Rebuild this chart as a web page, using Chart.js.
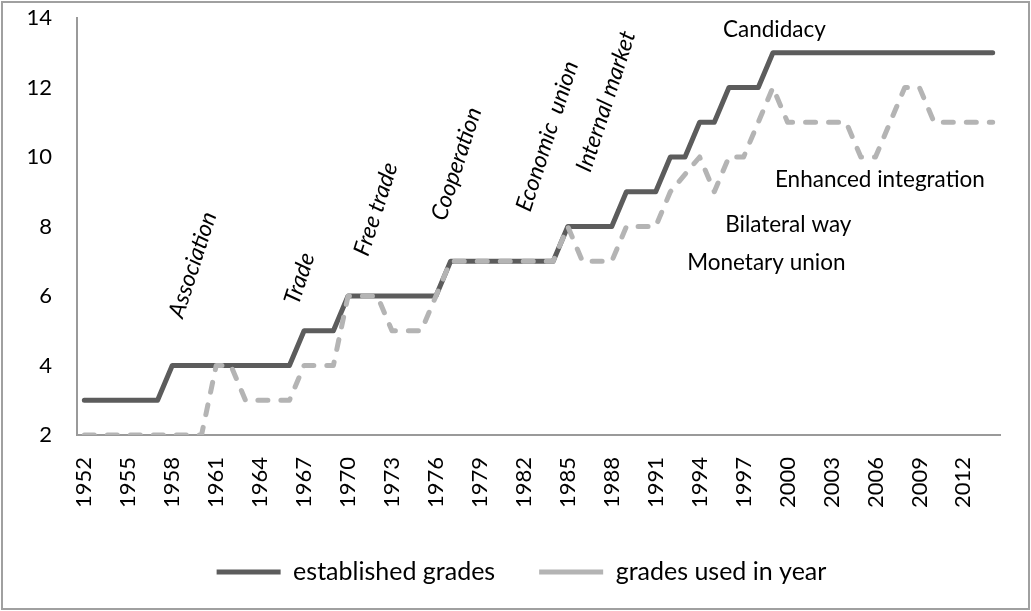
<!DOCTYPE html>
<html lang="en">
<head>
  <meta charset="UTF-8" />
  <title>Grades</title>
  <script src="https://cdn.jsdelivr.net/npm/chart.js"></script>
  <style>
    html, body { margin: 0; padding: 0; background: #fff; }
    #wrap { width: 1031px; height: 611px; }
  </style>
</head>
<body>
  <div id="wrap"><canvas id="gradeChart" width="1031" height="611"></canvas></div>

  <script>
    const years = [
      '1952', '1953', '1954', '1955', '1956', '1957', '1958', '1959', '1960', '1961',
      '1962', '1963', '1964', '1965', '1966', '1967', '1968', '1969', '1970', '1971',
      '1972', '1973', '1974', '1975', '1976', '1977', '1978', '1979', '1980', '1981',
      '1982', '1983', '1984', '1985', '1986', '1987', '1988', '1989', '1990', '1991',
      '1992', '1993', '1994', '1995', '1996', '1997', '1998', '1999', '2000', '2001',
      '2002', '2003', '2004', '2005', '2006', '2007', '2008', '2009', '2010', '2011',
      '2012', '2013', '2014'
    ];

    const established = [
      3, 3, 3, 3, 3, 3, 4, 4, 4, 4,
      4, 4, 4, 4, 4, 5, 5, 5, 6, 6,
      6, 6, 6, 6, 6, 7, 7, 7, 7, 7,
      7, 7, 7, 8, 8, 8, 8, 9, 9, 9,
      10, 10, 11, 11, 12, 12, 12, 13, 13, 13,
      13, 13, 13, 13, 13, 13, 13, 13, 13, 13,
      13, 13, 13
    ];

    const usedInYear = [
      2, 2, 2, 2, 2, 2, 2, 2, 2, 4,
      4, 3, 3, 3, 3, 4, 4, 4, 6, 6,
      6, 5, 5, 5, 6, 7, 7, 7, 7, 7,
      7, 7, 7, 8, 7, 7, 7, 8, 8, 8,
      9, 9.5, 10, 9, 10, 10, 11, 12, 11, 11,
      11, 11, 11, 10, 10, 11, 12, 12, 11, 11,
      11, 11, 11
    ];

    const seriesNames = ['established grades', 'grades used in year'];

    // stage labels written on the plot, anchored at (year, grade)
    const stageLabels = ['Association', 'Trade', 'Free trade', 'Cooperation', 'Economic  union', 'Internal market',
      'Candidacy', 'Enhanced integration', 'Bilateral way', 'Monetary union'];
    const stageYears = [1959.4, 1966.7, 1971.9, 1977.4, 1983.6, 1987.6, 1999.1, 2006.3, 2000.05, 1998.55];
    const stageGrades = [6.9, 6.5, 8.5, 9.8, 10.6, 11.6, 13.65, 9.34, 8.04, 6.95];
    const stageTilted = [true, true, true, true, true, true, false, false, false, false];

    const FONT = 'Lato, "Open Sans", sans-serif';

    const stagePlugin = {
      id: 'stages',
      afterDatasetsDraw(chart) {
        const { ctx, scales } = chart;
        ctx.save();
        ctx.fillStyle = '#000';
        ctx.textAlign = 'center';
        ctx.textBaseline = 'middle';
        stageLabels.forEach((txt, i) => {
          const x = scales.x.getPixelForValue(stageYears[i] - 1952);
          const y = scales.y.getPixelForValue(stageGrades[i]);
          ctx.save();
          ctx.translate(x, y);
          if (stageTilted[i]) {
            ctx.rotate(-72 * Math.PI / 180);
            ctx.font = 'italic 23px ' + FONT;
          } else {
            ctx.font = '22.5px ' + FONT;
          }
          ctx.fillText(txt, 0, 0);
          ctx.restore();
        });
        ctx.restore();
      }
    };

    const framePlugin = {
      id: 'frame',
      beforeDraw(chart) {
        const { ctx, width, height } = chart;
        ctx.save();
        ctx.fillStyle = '#fff';
        ctx.fillRect(0, 0, width, height);
        ctx.strokeStyle = '#a0a0a0';
        ctx.lineWidth = 2;
        ctx.strokeRect(2, 2, width - 4, height - 4);
        ctx.restore();
      }
    };

    Chart.defaults.font.family = FONT;
    Chart.defaults.color = '#000';

    const ctx = document.getElementById('gradeChart').getContext('2d');
    new Chart(ctx, {
      type: 'line',
      data: {
        labels: years,
        datasets: [{
          label: seriesNames[0],
          data: established,
          borderColor: '#5c5c5c',
          backgroundColor: '#5c5c5c',
          borderWidth: 5,
          borderCapStyle: 'round',
          borderJoinStyle: 'round',
          pointRadius: 0,
          tension: 0,
          order: 2
        }, {
          label: seriesNames[1],
          data: usedInYear,
          borderColor: '#b4b4b4',
          backgroundColor: '#b4b4b4',
          borderWidth: 5,
          borderDash: [10, 13],
          borderCapStyle: 'round',
          borderJoinStyle: 'round',
          pointRadius: 0,
          tension: 0,
          order: 1
        }]
      },
      options: {
        responsive: false,
        animation: false,
        layout: { padding: { left: 12, right: 0, top: 18, bottom: 16.5 } },
        plugins: {
          tooltip: { enabled: false },
          legend: {
            position: 'bottom',
            labels: {
              usePointStyle: true,
              pointStyle: 'line',
              pointStyleWidth: 64,
              padding: 44,
              font: { size: 25 },
              color: '#000',
              sort: (a, b) => a.datasetIndex - b.datasetIndex
            }
          }
        },
        scales: {
          x: {
            offset: true,
            grid: { display: false, drawTicks: false },
            border: { display: true, color: '#9a9a9a', width: 2 },
            ticks: {
              autoSkip: false,
              maxRotation: 90,
              minRotation: 90,
              padding: 22,
              font: { size: 22 },
              color: '#000',
              callback: function (value, index) {
                return index % 3 === 0 ? years[index] : '';
              }
            },
            afterFit(scale) {
              scale.height = 80.5;
              scale.paddingLeft = 0;
              scale.paddingRight = 31;
            }
          },
          y: {
            min: 2,
            max: 14,
            grid: { display: false, drawTicks: false },
            border: { display: true, color: '#9a9a9a', width: 2 },
            ticks: {
              stepSize: 2,
              padding: 25,
              font: { size: 22 },
              color: '#000'
            },
            afterFit(scale) {
              scale.width = 65;
              scale.paddingTop = 0;
              scale.paddingBottom = 0;
            }
          }
        }
      },
      plugins: [framePlugin, stagePlugin]
    });
  </script>
</body>
</html>
